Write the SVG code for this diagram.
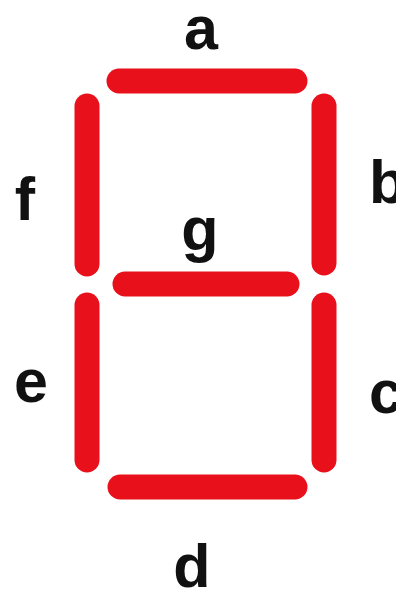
<svg xmlns="http://www.w3.org/2000/svg" width="396" height="591" viewBox="0 0 396 591">
<style>
.seg{stroke:#e8101a;stroke-width:25;stroke-linecap:round;fill:none}
.lbl{font-family:"Liberation Sans",Arial,sans-serif;font-weight:bold;font-size:61px;fill:#111}
</style>
<rect width="396" height="591" fill="#ffffff"/>
<g id="seg-a"><line class="seg" x1="119" y1="81" x2="295" y2="81"/></g>
<g id="seg-b"><line class="seg" x1="324" y1="106" x2="324" y2="263"/></g>
<g id="seg-c"><line class="seg" x1="324" y1="305" x2="324" y2="460"/></g>
<g id="seg-d"><line class="seg" x1="120" y1="487" x2="295" y2="487"/></g>
<g id="seg-e"><line class="seg" x1="87" y1="305" x2="87" y2="460"/></g>
<g id="seg-f"><line class="seg" x1="87" y1="106" x2="87" y2="264"/></g>
<g id="seg-g"><line class="seg" x1="125" y1="284" x2="287" y2="284"/></g>
<g id="labels">
<text class="lbl" x="201" y="49" text-anchor="middle">a</text>
<text class="lbl" x="369" y="203">b</text>
<text class="lbl" x="369" y="413">c</text>
<text class="lbl" x="192" y="587" text-anchor="middle">d</text>
<text class="lbl" x="31" y="402" text-anchor="middle">e</text>
<text class="lbl" x="25" y="220" text-anchor="middle">f</text>
<text class="lbl" x="200" y="250" text-anchor="middle">g</text>
</g>
</svg>
